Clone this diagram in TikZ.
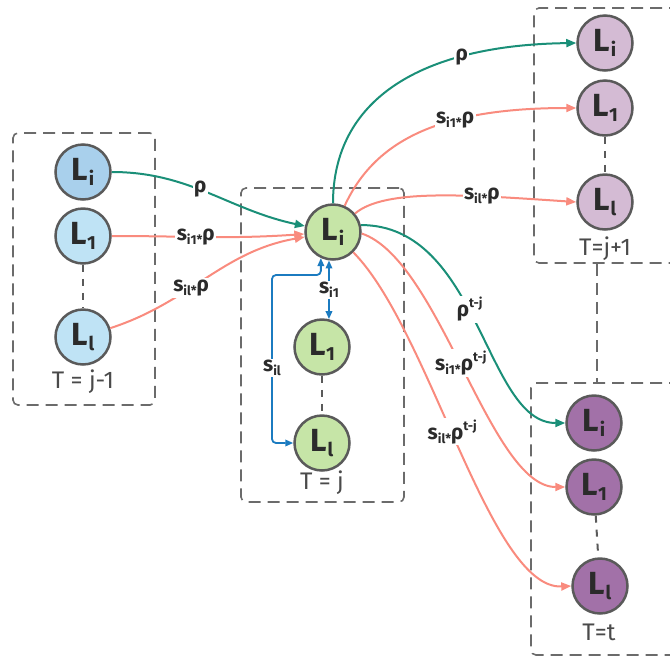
\documentclass[tikz,border=0pt]{standalone}
\usepackage{fontspec}
\setmainfont{Fira Sans}
\usetikzlibrary{arrows.meta}

\definecolor{rimgray}{HTML}{5A5A5A}
\definecolor{framegray}{HTML}{6B6B6B}
\definecolor{inkdark}{HTML}{2B2B2B}
\definecolor{inkgray}{HTML}{4A4A4A}
\definecolor{bluedeep}{HTML}{A9D0EC}
\definecolor{bluepale}{HTML}{BFE3F5}
\definecolor{greenfill}{HTML}{C6E5A7}
\definecolor{lilacfill}{HTML}{D4BBD4}
\definecolor{plumfill}{HTML}{A271A8}
\definecolor{tealline}{HTML}{1A8F78}
\definecolor{salmonline}{HTML}{F98B7E}
\definecolor{blueline}{HTML}{1B7BC0}

% state symbol L with a lowered index
\newcommand{\Lv}[1]{L\kern0.5pt\raisebox{-0.32ex}{\fontsize{19}{19}\selectfont #1}}
% lowered and raised small text in the edge labels
\newcommand{\lo}[1]{\raisebox{-0.35ex}{\fontsize{13}{13}\selectfont #1}}
\newcommand{\hi}[1]{\raisebox{0.8ex}{\fontsize{13}{13}\selectfont #1}}

\tikzset{
  state/.style={circle, draw=rimgray, line width=2.5pt, minimum size=55pt,
    inner sep=0pt, text=inkdark, font=\fontsize{32}{32}\selectfont\bfseries},
  frame/.style={draw=framegray, line width=1.6pt, dash pattern=on 12pt off 7pt,
    rounded corners=5pt, rectangle, inner sep=0pt},
  gap/.style={draw=rimgray, line width=2pt, dash pattern=on 7pt off 7pt},
  link/.style={line width=2pt, -{Triangle[length=10pt,width=8pt]}},
  teal/.style={link, draw=tealline},
  salmon/.style={link, draw=salmonline},
  bluelink/.style={line width=1.8pt, draw=blueline,
    {Triangle[length=8pt,width=6.5pt]}-{Triangle[length=8pt,width=6.5pt]}},
  lab/.style={fill=white, inner sep=1.5pt, text=inkdark,
    font=\fontsize{21}{21}\selectfont\bfseries},
  stamp/.style={text=inkgray, font=\fontsize{24}{24}\selectfont}
}

\begin{document}
\begin{tikzpicture}[x=1pt,y=1pt]
\useasboundingbox (0,0) rectangle (670,-657);
\clip (0,0) rectangle (670,-657);

% time-step frames
\node[frame, minimum width=142pt, minimum height=272pt] (box-a) at (84,-269) {};
\node[frame, minimum width=163pt, minimum height=314pt] (box-b) at (322.5,-345) {};
\node[frame, minimum width=171pt, minimum height=255pt] (box-c) at (619.5,-135.5) {};
\node[frame, minimum width=174pt, minimum height=272pt] (box-d) at (618,-519) {};
\coordinate (link-x) at (597,0);
\draw[frame] (box-c.south west -| link-x) -- (box-d.north west -| link-x);

% T = j-1
\node[state, fill=bluedeep] (a-i) at (83,-172) {\Lv{i}};
\node[state, fill=bluepale] (a-1) at (83,-236) {\Lv{1}};
\node[state, fill=bluepale] (a-l) at (83,-337) {\Lv{l}};
\node[stamp] (a-t) at (83,-382) {T = j-1};
\draw[gap] (a-1) -- (a-l);

% T = j
\node[state, fill=greenfill] (b-i) at (333,-232) {\Lv{i}};
\node[state, fill=greenfill] (b-1) at (322,-347) {\Lv{1}};
\node[state, fill=greenfill] (b-l) at (322,-443) {\Lv{l}};
\node[stamp] (b-t) at (322,-483) {T = j};
\draw[gap] (b-1) -- (b-l);

% T = j+1
\node[state, fill=lilacfill] (c-i) at (605,-43) {\Lv{i}};
\node[state, fill=lilacfill] (c-1) at (605,-108) {\Lv{1}};
\node[state, fill=lilacfill] (c-l) at (605,-202) {\Lv{l}};
\node[stamp] (c-t) at (605,-249) {T=j+1};
\draw[gap] (c-1) -- (c-l);

% T = t
\node[state, fill=plumfill] (d-i) at (594,-423) {\Lv{i}};
\node[state, fill=plumfill] (d-1) at (594,-487) {\Lv{1}};
\node[state, fill=plumfill] (d-l) at (600,-586) {\Lv{l}};
\node[stamp] (d-t) at (599,-632) {T=t};
\draw[gap] (d-1) -- (d-l);

% into the state at T = j
\draw[teal] (a-i) to[out=0,in=168]
  node[lab, pos=0.45] {ρ} (b-i);
\draw[salmon] (a-1) to[out=0,in=184]
  node[lab, pos=0.43] {s\lo{i1*}ρ} (b-i);
\draw[salmon] (a-l) to[out=18,in=190]
  node[lab, pos=0.41] {s\lo{il*}ρ} (b-i);

% within T = j
\draw[bluelink] (b-i.262) -- node[lab, fill=white] {s\lo{i1}} (b-1.76);
\coordinate (sil-top) at (272,-275);
\coordinate (sil-bot) at (272,-443);
\draw[bluelink, rounded corners=4pt] (b-i.245) |- (sil-top) -- (sil-bot) -- (b-l.west);
\node[lab] (sil) at (272,-368) {s\lo{il}};

% one step ahead
\draw[teal] (b-i.north) .. controls (333,-100) and (420,-45) ..
  node[lab, pos=0.72] {ρ} (c-i.west);
\draw[salmon] (b-i.66) .. controls (375,-140) and (440,-108) ..
  node[lab, pos=0.64] {s\lo{i1*}ρ} (c-1.west);
\draw[salmon] (b-i.40) .. controls (385,-188) and (470,-195) ..
  node[lab, pos=0.68] {s\lo{il*}ρ} (c-l.west);

% t-j steps ahead
\draw[teal] (b-i.14) .. controls (480,-225) and (485,-423) ..
  node[lab, pos=0.45] {ρ\hi{t-j}} (d-i.west);
\draw[salmon] (b-i.-3) .. controls (440,-260) and (490,-487) ..
  node[lab, pos=0.48] {s\lo{i1*}ρ\hi{t-j}} (d-1.west);
\draw[salmon] (b-i.-45) .. controls (430,-330) and (490,-590) ..
  node[lab, pos=0.46] {s\lo{il*}ρ\hi{t-j}} (d-l.west);
\end{tikzpicture}
\end{document}
